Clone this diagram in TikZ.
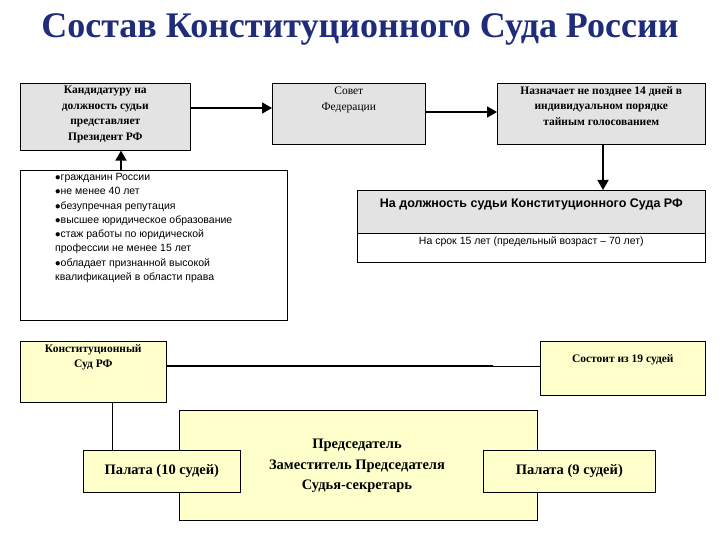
\documentclass[tikz,border=0pt]{standalone}
\usepackage{fontspec}
\setmainfont{Liberation Serif}
\newfontfamily\arialf{Liberation Sans}
\usetikzlibrary{arrows.meta}
\definecolor{boxgray}{HTML}{E3E3E3}
\definecolor{boxyel}{HTML}{FFFFCC}
\definecolor{titleblue}{HTML}{1F2C7A}
\tikzset{
  box/.style={draw, line width=0.6pt, anchor=north west, inner sep=0pt},
  gbox/.style={box, fill=boxgray},
  ybox/.style={box, fill=boxyel},
  txt/.style={align=center, font=\bfseries\fontsize{11.5}{15.5}\selectfont, inner sep=0pt},
  conn/.style={line width=1.6pt, -{Triangle[length=10pt,width=11pt]}}
}
\begin{document}
\begin{tikzpicture}[x=1pt,y=-1pt]
      \useasboundingbox (0,0) rectangle (720,540);
      \node[titleblue, font=\bfseries\fontsize{36}{40}\selectfont] (title) at (360,29) {Состав Конституционного Суда России};
      % upper row
      \node[gbox, minimum width=170pt, minimum height=67pt] (pres) at (20,83) {};
      \node[txt, anchor=north] at (pres.north) [yshift=-3pt] {Кандидатуру на\\должность судьи\\представляет\\Президент РФ};
      \node[gbox, minimum width=153pt, minimum height=61pt] (sovet) at (272,83) {};
      \node[txt, anchor=north, font=\fontsize{11.5}{15.5}\selectfont] at (sovet.north) [yshift=-4pt] {Совет\\Федерации};
      \node[gbox, minimum width=208pt, minimum height=61pt] (naz) at (497,83) {};
      \node[txt, anchor=north] at (naz.north) [yshift=-3pt] {Назначает не позднее 14 дней в\\индивидуальном порядке\\тайным голосованием};
      % requirements
      \node[box, minimum width=267pt, minimum height=150pt] (qual) at (20,170) {};
      \node[anchor=north west, align=left, inner sep=0pt, font=\arialf\fontsize{10.5}{14.3}\selectfont] at (55,173)
        {$\bullet$гражданин России\\$\bullet$не менее 40 лет\\$\bullet$безупречная репутация\\$\bullet$высшее юридическое образование\\$\bullet$стаж работы по юридической\\профессии не менее 15 лет\\$\bullet$обладает признанной высокой\\квалификацией в области права};
      % term
      \node[gbox, minimum width=348pt, minimum height=43pt] (post) at (357,190) {};
      \node[box, minimum width=348pt, minimum height=29pt] (term) at (357,233) {};
      \node[font=\arialf\bfseries\fontsize{12.5}{15}\selectfont, anchor=north, inner sep=0pt] at (post.north) [yshift=-9pt] {На должность судьи Конституционного Суда РФ};
      \node[font=\arialf\fontsize{10.5}{12}\selectfont, anchor=north, inner sep=0pt] at (term.north) [yshift=-4pt] {На срок 15 лет (предельный возраст – 70 лет)};
      % court
      \node[ybox, minimum width=146pt, minimum height=61pt] (ks) at (20,341) {};
      \node[txt, anchor=north] at (ks.north) [yshift=-3pt] {Конституционный\\Суд РФ};
      \node[ybox, minimum width=165pt, minimum height=54pt] (sost) at (540,341) {};
      \node[txt] at (sost.center) [yshift=9pt] {Состоит из 19 судей};
      \node[ybox, minimum width=358pt, minimum height=110pt] (center) at (179,410) {};
      \node[txt, font=\bfseries\fontsize{14.5}{20.5}\selectfont] at (357,466) {Председатель\\Заместитель Председателя\\Судья-секретарь};
      \node[ybox, minimum width=157pt, minimum height=42pt] (pal10) at (83,450) {};
      \node[txt, font=\bfseries\fontsize{14.5}{16}\selectfont] at (pal10.center) {Палата (10 судей)};
      \node[ybox, minimum width=172pt, minimum height=42pt] (pal9) at (483,450) {};
      \node[txt, font=\bfseries\fontsize{14.5}{16}\selectfont] at (pal9.center) {Палата (9 судей)};
      % connectors
      \draw[conn] (pres.east |- 0,108) -- (sovet.west |- 0,108);
      \draw[conn] (sovet.east |- 0,112) -- (naz.west |- 0,112);
      \draw[conn] (naz.south -| 603,0) -- (post.north -| 603,0);
      \draw[conn] (qual.north -| 121,0) -- (pres.south -| 121,0);
      \draw[line width=1.6pt] (ks.east |- 0,366) -- (493,366);
      \draw[line width=0.6pt] (493,366) -- (sost.west |- 0,366);
      \draw[line width=0.6pt] (ks.south -| 112,0) -- (pal10.north -| 112,0);
\end{tikzpicture}
\end{document}
